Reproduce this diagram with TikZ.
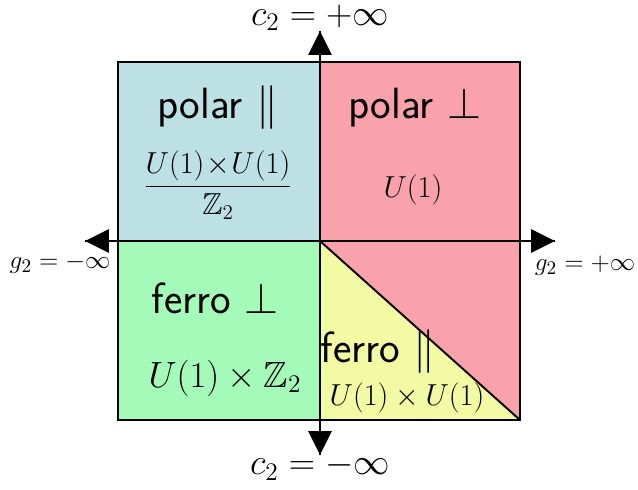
\documentclass[tikz,border=0pt]{standalone}
\usepackage{amsmath,amssymb}
\usetikzlibrary{arrows.meta}
\definecolor{azul}{RGB}{188,224,228}
\definecolor{rosa}{RGB}{250,162,172}
\definecolor{verde}{RGB}{164,250,184}
\definecolor{amarillo}{RGB}{242,250,164}
\begin{document}
\begin{tikzpicture}[
    fase/.style={font=\sffamily\Huge},
    grupo/.style={font=\LARGE},
    limc/.style={font=\fontsize{19.5}{23}\selectfont, inner sep=0pt},
    limg/.style={font=\fontsize{15}{18}\selectfont, inner sep=0pt},
    eje/.style={line width=1.7pt, -{Triangle[length=0.48cm,width=0.46cm]}},
    borde/.style={line width=1.1pt}]
                \useasboundingbox (-6.4,-4.96) rectangle (6.36,4.82);
                % Regiones
                \fill[azul] (-4.04,0) rectangle (0,3.58);
                \fill[rosa] (0,0) rectangle (4,3.58);
                \fill[rosa] (0,0) -- (4,0) -- (4,-3.58) -- cycle;
                \fill[verde] (-4.04,-3.58) rectangle (0,0);
                \fill[amarillo] (0,0) -- (0,-3.58) -- (4,-3.58) -- cycle;
                \draw[borde] (-4.04,-3.58) rectangle (4,3.58);
                \coordinate (O) at (0,0);
                \coordinate (E) at (4,-3.58);
                \draw[borde] (O) -- (E);
                % Ejes
                \coordinate (xizq) at (-4.7,0);
                \coordinate (xder) at (4.7,0);
                \coordinate (yarr) at (0,4.2);
                \coordinate (yab) at (0,-4.28);
                \draw[eje] (xder) -- (xizq);
                \draw[eje] (xizq) -- (xder);
                \draw[eje] (yab) -- (yarr);
                \draw[eje] (yarr) -- (yab);
                \node[limc] (cmas) at (0,4.46) {$c_2=+\infty$};
                \node[limc] (cmenos) at (0,-4.52) {$c_2=-\infty$};
                \node[limg] (gmenos) at (-5.2,-0.46) {$g_2=-\infty$};
                \node[limg] (gmas) at (5.3,-0.5) {$g_2=+\infty$};
                % Fases
                \node[fase] (polpar) at (-2.04,2.66) {polar $\|$};
                \node[grupo] (gpolpar) at (-2.04,1.12) {$\dfrac{U(1)\!\times\! U(1)}{\mathbb{Z}_2}$};
                \node[fase] (polperp) at (1.9,2.66) {polar $\perp$};
                \node[grupo] (gpolperp) at (1.86,1.02) {$U(1)$};
                \node[fase] (ferperp) at (-2.1,-1.14) {ferro $\perp$};
                \node[grupo,font=\huge] (gferperp) at (-1.9,-2.74) {$U(1)\times\mathbb{Z}_2$};
                \node[fase] (ferpar) at (1.16,-2.22) {ferro $\|$};
                \node[grupo] (gferpar) at (1.74,-3.14) {$U(1)\times U(1)$};
\end{tikzpicture}
\end{document}
